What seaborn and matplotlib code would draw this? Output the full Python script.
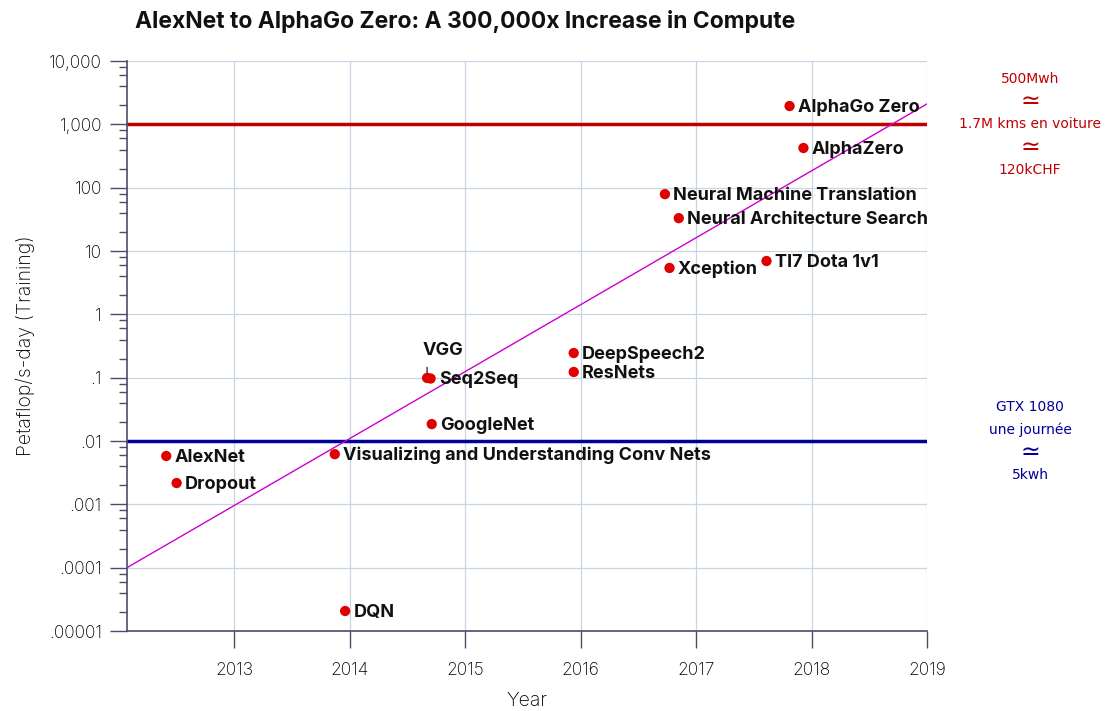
import pandas as pd
import seaborn as sns
import matplotlib.pyplot as plt
import matplotlib.ticker as mticker

# données
models = ['AlexNet', 'Dropout', 'DQN', 'Visualizing and Understanding Conv Nets',
          'VGG', 'Seq2Seq', 'GoogleNet', 'DeepSpeech2', 'ResNets',
          'Neural Machine Translation', 'Neural Architecture Search', 'Xception',
          'TI7 Dota 1v1', 'AlphaGo Zero', 'AlphaZero']
years = [2012.41, 2012.50, 2013.96, 2013.87, 2014.67, 2014.70, 2014.71,
         2015.94, 2015.94, 2016.73, 2016.85, 2016.77, 2017.61, 2017.81, 2017.93]
petaflops = [0.0058, 0.00217, 0.0000207, 0.0062, 0.099, 0.097, 0.0185,
             0.245, 0.123, 79, 33, 5.4, 6.95, 1945, 423]

trend_years = [2012.07, 2019.0]
trend_values = [0.0001, 2100]

ytick_values = [1e-5, 1e-4, 1e-3, 1e-2, 1e-1, 1, 10, 100, 1000, 10000]
ytick_labels = ['.00001', '.0001', '.001', '.01', '.1', '1', '10', '100', '1,000', '10,000']
xtick_values = [2013, 2014, 2015, 2016, 2017, 2018, 2019]

red_note = ['500Mwh', '≃', '1.7M kms en voiture', '≃', '120kCHF']
blue_note = ['GTX 1080', 'une journée', '≃', '5kwh']

df = pd.DataFrame({'model': models, 'year': years, 'pfs': petaflops})
trend = pd.DataFrame({'year': trend_years, 'pfs': trend_values})

sns.set_theme(style='whitegrid')
plt.rcParams['font.family'] = ['Inter', 'DejaVu Sans']

spine_col = '#4b4b6b'
fig = plt.figure(figsize=(11.08, 7.11), dpi=100)
ax = fig.add_axes([0.1146, 0.1125, 0.722, 0.8017])

ax.set_yscale('log')
ax.axhline(1000, color='#c00000', lw=2.5, zorder=2)
ax.axhline(0.01, color='#000099', lw=2.5, zorder=2)
sns.lineplot(data=trend, x='year', y='pfs', ax=ax, color='#cc00cc', lw=1, zorder=3)
sns.scatterplot(data=df, x='year', y='pfs', ax=ax, color='#e00000', s=55,
                edgecolor='none', zorder=4)

# étiquettes des points
for _, r in df.iterrows():
    if r['model'] == 'VGG':
        ax.annotate('VGG', (r['year'], r['pfs']), xytext=(-3, 14), textcoords='offset points',
                    ha='left', va='bottom', fontsize=13, fontweight='bold', color='#111111',
                    arrowprops=dict(arrowstyle='-', color='#333355', lw=1, shrinkA=4, shrinkB=0,
                                    relpos=(0.1, 0)))
        continue
    ax.annotate(r['model'], (r['year'], r['pfs']), xytext=(6, -1), textcoords='offset points',
                ha='left', va='center', fontsize=13, fontweight='bold', color='#111111')

ax.set_xlim(2012.07, 2019)
ax.set_ylim(1e-5, 1e4)
ax.set_xticks(xtick_values)
ax.set_xticklabels([str(v) for v in xtick_values], fontweight='light')
ax.set_yticks(ytick_values)
ax.set_yticklabels(ytick_labels, fontweight='light')
ax.yaxis.set_minor_locator(mticker.LogLocator(base=10, subs=[2, 4, 6, 8], numticks=20))
ax.yaxis.set_minor_formatter(mticker.NullFormatter())

ax.grid(True, which='major', color='#c9d5e4', lw=0.9)
ax.grid(False, which='minor')
for s in ['top', 'right']:
    ax.spines[s].set_visible(False)
for s in ['left', 'bottom']:
    ax.spines[s].set_color(spine_col)
    ax.spines[s].set_linewidth(1.2)
ax.tick_params(axis='both', which='major', direction='out', length=12, width=1,
               color=spine_col, labelsize=12.5, labelcolor='#000000', pad=6,
               bottom=True, left=True)
ax.tick_params(axis='y', which='minor', direction='out', length=6, width=1,
               color=spine_col, left=True)
ax.tick_params(axis='x', pad=10)

ax.set_xlabel('Year', fontsize=14, color='#000000', labelpad=10, fontweight='light')
ax.set_ylabel('Petaflop/s-day (Training)', fontsize=14, color='#000000', labelpad=10,
              fontweight='light')
fig.text(0.122, 0.970, 'AlexNet to AlphaGo Zero: A 300,000x Increase in Compute',
         fontsize=16.5, fontweight='bold', color='#111111', ha='left', va='center')

# notes à droite
def note(lines, yval, color):
    n = len(lines)
    for i, txt in enumerate(lines):
        off = ((n - 1) / 2 - i) * 16.5
        big = txt == '≃'
        ax.annotate(txt, xy=(1.129, yval), xycoords=('axes fraction', 'data'),
                    xytext=(0, off), textcoords='offset points', ha='center', va='center',
                    fontsize=17 if big else 10, color=color, annotation_clip=False,
                    family=['DejaVu Sans'])

note(red_note, 1000, '#c00000')
note(blue_note, 0.01, '#000099')

fig.savefig('out.png', dpi=100)
plt.close(fig)
